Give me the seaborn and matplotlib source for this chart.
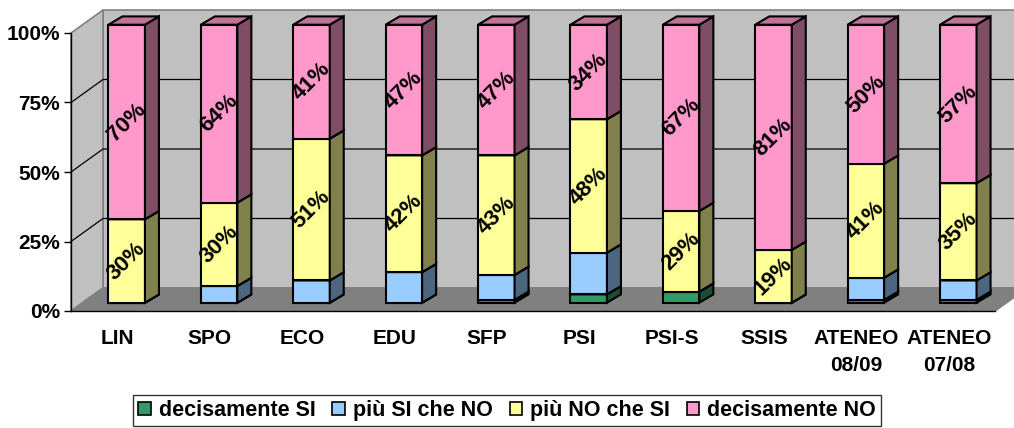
import numpy as np
import pandas as pd
import matplotlib
matplotlib.use("Agg")
import matplotlib.pyplot as plt
import matplotlib.transforms as mtransforms
from matplotlib.patches import Polygon, Patch
from matplotlib.colors import to_rgb
import seaborn as sns

# ---- data -------------------------------------------------------------
categories = ["LIN", "SPO", "ECO", "EDU", "SFP", "PSI", "PSI-S", "SSIS",
              "ATENEO\n08/09", "ATENEO\n07/08"]
series_names = ["decisamente SI", "più SI che NO", "più NO che SI", "decisamente NO"]
decisamente_si = [0, 0, 0, 0, 1, 3, 4, 0, 1, 1]
piu_si_che_no = [0, 6, 8, 11, 9, 15, 0, 0, 8, 7]
piu_no_che_si = [30, 30, 51, 42, 43, 48, 29, 19, 41, 35]
decisamente_no = [70, 64, 41, 47, 47, 34, 67, 81, 50, 57]
y_ticks = [0, 25, 50, 75, 100]
y_tick_labels = ["0%", "25%", "50%", "75%", "100%"]
labelled_series = ["più NO che SI", "decisamente NO"]

series_values = [decisamente_si, piu_si_che_no, piu_no_che_si, decisamente_no]
front_colors = ["#339966", "#99ccff", "#ffff99", "#ff99cc"]

df = pd.DataFrame({"categoria": categories})
for name, vals in zip(series_names, series_values):
    df[name] = vals
long_df = df.melt(id_vars="categoria", var_name="risposta", value_name="quota")

# ---- style ------------------------------------------------------------
sns.set_theme(style="white")
plt.rcParams["font.family"] = ["Liberation Sans", "DejaVu Sans"]
plt.rcParams["font.weight"] = "bold"
plt.rcParams["text.color"] = "black"
plt.rcParams["xtick.color"] = "black"
plt.rcParams["ytick.color"] = "black"
plt.rcParams["xtick.labelcolor"] = "black"
plt.rcParams["ytick.labelcolor"] = "black"

FIG_W, FIG_H = 1014, 428
AX_L, AX_B, AX_W, AX_H = 71, 117, 924, 278
fig = plt.figure(figsize=(FIG_W / 100, FIG_H / 100), dpi=100)
ax = fig.add_axes([AX_L / FIG_W, AX_B / FIG_H, AX_W / FIG_W, AX_H / FIG_H])
ax.set_facecolor("none")

n = len(categories)
x_lo, x_hi = -0.5, n - 0.5
sx = (x_hi - x_lo) / AX_W      # data units per pixel (x)
sy = 100.0 / AX_H              # data units per pixel (y)


def shade(color, f):
    r, g, b = to_rgb(color)
    return (r * f, g * f, b * f)


# ---- walls and floor of the 3-D box ----------------------------------
wdx, wdy = 32 * sx, 23 * sy
wall_grey, floor_grey, edge_grey = "#c0c0c0", "#808080", "#808080"
left_wall = [(x_lo, 0), (x_lo, 100), (x_lo + wdx, 100 + wdy), (x_lo + wdx, wdy)]
back_wall = [(x_lo + wdx, wdy), (x_hi + wdx, wdy), (x_hi + wdx, 100 + wdy), (x_lo + wdx, 100 + wdy)]
floor = [(x_lo, 0), (x_hi, 0), (x_hi + wdx, wdy), (x_lo + wdx, wdy)]
for poly, fc in [(back_wall, wall_grey), (left_wall, wall_grey), (floor, floor_grey)]:
    ax.add_patch(Polygon(poly, closed=True, facecolor=fc, edgecolor=edge_grey,
                         linewidth=1.2, clip_on=False, zorder=0.2))

for t in y_ticks[1:-1]:
    ax.plot([x_lo, x_lo + wdx, x_hi + wdx], [t, t + wdy, t + wdy],
            color="black", linewidth=0.9, clip_on=False, zorder=0.4)

# ---- stacked 3-D bars -------------------------------------------------
bar_dx, bar_dy = 9.5, 8.3           # shift of the bar front face (pixels)
depth_dx, depth_dy = 14 * sx, 8.3 * sy
bar_tr = mtransforms.offset_copy(ax.transData, fig=fig, x=bar_dx, y=bar_dy, units="dots")

bottom = np.zeros(n)
for k, (name, color) in enumerate(zip(series_names, front_colors)):
    sub = long_df[long_df["risposta"] == name]
    before = len(ax.patches)
    sns.barplot(data=sub, x="categoria", y="quota", order=categories,
                bottom=bottom, color=color, saturation=1, width=0.395,
                edgecolor="black", linewidth=1.5, errorbar=None, ax=ax)
    z = 3 + k
    for p in ax.patches[before:]:
        p.set_transform(bar_tr)
        p.set_zorder(z)
        x0, y0 = p.get_x(), p.get_y()
        x1, y1 = x0 + p.get_width(), y0 + p.get_height()
        side = [(x1, y0), (x1 + depth_dx, y0 + depth_dy),
                (x1 + depth_dx, y1 + depth_dy), (x1, y1)]
        top = [(x0, y1), (x1, y1), (x1 + depth_dx, y1 + depth_dy), (x0 + depth_dx, y1 + depth_dy)]
        ax.add_patch(Polygon(side, closed=True, facecolor=shade(color, 0.5),
                             edgecolor="black", linewidth=1.5, transform=bar_tr,
                             clip_on=False, zorder=z))
        ax.add_patch(Polygon(top, closed=True, facecolor=shade(color, 0.75),
                             edgecolor="black", linewidth=1.5, transform=bar_tr,
                             clip_on=False, zorder=z))
        p.set_clip_on(False)
    if name in labelled_series:
        vals = df[name].to_numpy()
        for i, (v, b) in enumerate(zip(vals, bottom)):
            if v > 0:
                ax.text(i, b + v / 2, f"{v:.0f}%", transform=bar_tr,
                        rotation=45, rotation_mode="anchor", ha="center", va="center",
                        fontsize=16, fontweight="bold", color="black", zorder=20)
    bottom = bottom + df[name].to_numpy()

# ---- axes -------------------------------------------------------------
ax.set_xlim(x_lo, x_hi)
ax.set_ylim(0, 100)
ax.set_xlabel("")
ax.set_ylabel("")
ax.set_yticks(y_ticks)
ax.set_yticklabels(y_tick_labels, fontsize=15, fontweight="bold", color="black")
ax.set_xticks(range(n))
ax.set_xticklabels(categories, fontsize=15, fontweight="bold", linespacing=1.55, color="black")
ax.set_xticks(np.arange(x_lo, x_hi + 0.01, 1.0), minor=True)
ax.tick_params(axis="x", which="major", length=0, pad=13)
ax.tick_params(axis="x", which="minor", length=5, width=1, color="black", direction="out")
ax.tick_params(axis="y", length=5, width=1, color="black", direction="out", pad=3, left=True)
ax.grid(False)
for s in ["top", "right"]:
    ax.spines[s].set_visible(False)
for s in ["left", "bottom"]:
    ax.spines[s].set_color("black")
    ax.spines[s].set_linewidth(1)

# ---- legend -----------------------------------------------------------
handles = [Patch(facecolor=c, edgecolor="black", linewidth=1.2, label=nm)
           for nm, c in zip(series_names, front_colors)]
leg = fig.legend(handles=handles, loc="center", bbox_to_anchor=(507 / FIG_W, 1 - 410.5 / FIG_H),
                 ncol=4, frameon=True, fancybox=False, edgecolor="black",
                 handlelength=0.56, handleheight=0.56, handletextpad=0.37,
                 columnspacing=0.8, borderpad=0.25, borderaxespad=0,
                 prop={"size": 15.5, "weight": "bold"})
leg.get_frame().set_linewidth(1)
for txt in leg.get_texts():
    txt.set_color("black")

fig.savefig("out.png", dpi=100, facecolor="white")
